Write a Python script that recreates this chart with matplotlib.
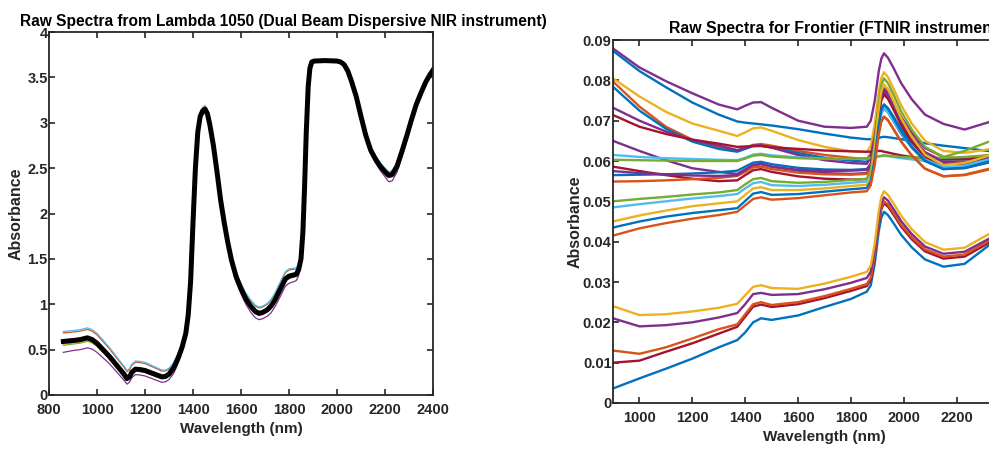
import numpy as np
import matplotlib
matplotlib.use("Agg")
import matplotlib.pyplot as plt
from matplotlib.ticker import FormatStrFormatter

plt.rcParams['font.family'] = ['Liberation Sans', 'DejaVu Sans']
plt.rcParams['font.weight'] = 'bold'

# ---------------- Lambda 1050 (left) ----------------
lam_wl = [860, 880, 900, 930, 960, 980, 1000,
          1025, 1050, 1075, 1100, 1115, 1125,
          1135, 1145, 1160, 1180, 1200,
          1225, 1250, 1270, 1285, 1300,
          1320, 1340, 1355, 1370, 1380,
          1390, 1400, 1410, 1420, 1430, 1440, 1450, 1460, 1470,
          1485, 1500, 1515, 1530, 1545, 1560, 1580,
          1600, 1620, 1640, 1660, 1675, 1690, 1710,
          1725, 1740, 1755, 1770, 1785, 1800, 1815, 1830,
          1840, 1850, 1858, 1865, 1872, 1880, 1887, 1895, 1905,
          1950, 2000, 2015, 2030, 2045, 2060,
          2080, 2100, 2120, 2140, 2160, 2180, 2200,
          2215, 2230, 2250, 2270, 2290, 2310,
          2330, 2350, 2370, 2385, 2400]
lam_mean = [0.59, 0.595, 0.60, 0.61, 0.63, 0.61, 0.57,
            0.50, 0.43, 0.35, 0.27, 0.22, 0.18,
            0.20, 0.25, 0.285, 0.28, 0.27,
            0.245, 0.22, 0.20, 0.205, 0.23,
            0.30, 0.42, 0.53, 0.68, 0.88,
            1.25, 1.90, 2.50, 2.90, 3.07, 3.13, 3.15, 3.10, 2.98,
            2.75, 2.46, 2.15, 1.90, 1.68, 1.49, 1.30,
            1.17, 1.06, 0.98, 0.92, 0.90, 0.91, 0.94,
            0.98, 1.04, 1.12, 1.20, 1.28, 1.31, 1.32, 1.33,
            1.38, 1.50, 1.80, 2.30, 2.90, 3.40, 3.60, 3.67, 3.68,
            3.685, 3.68, 3.67, 3.64, 3.57, 3.46,
            3.29, 3.07, 2.86, 2.70, 2.60, 2.52, 2.46,
            2.42, 2.43, 2.52, 2.68, 2.85, 3.03,
            3.20, 3.33, 3.45, 3.52, 3.58]
# how far the outer spectra sit above / below the black bundle
lam_dev_hi = [0.11, 0.11, 0.11, 0.11, 0.11, 0.11, 0.11,
              0.105, 0.10, 0.095, 0.09, 0.09, 0.09,
              0.09, 0.09, 0.09, 0.09, 0.09,
              0.085, 0.08, 0.075, 0.07, 0.065,
              0.06, 0.05, 0.045, 0.04, 0.035,
              0.03, 0.03, 0.03, 0.03, 0.035, 0.04, 0.04, 0.04, 0.04,
              0.035, 0.03, 0.035, 0.04, 0.045, 0.05, 0.055,
              0.06, 0.065, 0.07, 0.07, 0.07, 0.07, 0.07,
              0.075, 0.075, 0.08, 0.08, 0.08, 0.08, 0.075, 0.07,
              0.06, 0.05, 0.04, 0.03, 0.025, 0.02, 0.01, 0.0, 0.0,
              0.0, 0.0, 0.0, 0.005, 0.01, 0.015,
              0.02, 0.025, 0.03, 0.035, 0.04, 0.04, 0.04,
              0.04, 0.04, 0.035, 0.03, 0.025, 0.02,
              0.02, 0.015, 0.015, 0.01, 0.01]
lam_dev_lo = [-0.12, -0.115, -0.11, -0.11, -0.11, -0.105, -0.10,
              -0.09, -0.08, -0.075, -0.07, -0.065, -0.06,
              -0.06, -0.06, -0.06, -0.06, -0.06,
              -0.06, -0.06, -0.06, -0.06, -0.06,
              -0.06, -0.055, -0.05, -0.045, -0.04,
              -0.035, -0.03, -0.03, -0.03, -0.035, -0.04, -0.04, -0.04, -0.04,
              -0.04, -0.04, -0.04, -0.045, -0.05, -0.05, -0.05,
              -0.055, -0.06, -0.065, -0.07, -0.07, -0.07, -0.07,
              -0.075, -0.075, -0.08, -0.08, -0.08, -0.08, -0.075, -0.07,
              -0.065, -0.06, -0.05, -0.04, -0.03, -0.02, -0.01, 0.0, 0.0,
              0.0, 0.0, 0.0, -0.005, -0.01, -0.015,
              -0.02, -0.025, -0.03, -0.035, -0.04, -0.045, -0.055,
              -0.07, -0.07, -0.065, -0.06, -0.05, -0.045,
              -0.04, -0.035, -0.03, -0.025, -0.02]
lam_colors = ['#A2142F', '#0072BD', '#77AC30', '#EDB120', '#D95319', '#4DBEEE', '#7E2F8E']
lam_factor = [0.15, 0.05, -0.35, -0.25, 0.85, 1.0, -1.0]

# ---------------- Frontier FTNIR (right), values in milli-absorbance ----------------
ft_wl = [900, 1000, 1100, 1200, 1300, 1370, 1400, 1430, 1460, 1500, 1600, 1700, 1800, 1860,
         1875, 1890, 1905, 1915, 1925, 1940, 1960, 1990, 2030, 2080, 2150, 2230, 2330]

ft_upper_colors = ['#7E2F8E', '#0072BD', '#EDB120', '#D95319', '#0072BD', '#7E2F8E',
                   '#A2142F', '#7E2F8E', '#4DBEEE', '#77AC30', '#A2142F', '#0072BD',
                   '#D95319', '#7E2F8E', '#77AC30', '#4DBEEE', '#EDB120', '#0072BD',
                   '#D95319']
ft_upper = [
    [87.9, 83.2, 79.8, 76.8, 74.0, 72.8, 73.7, 74.5, 74.6, 73.2, 70.0, 68.5, 68.2, 68.5,
     70.0, 74.9, 82.2, 85.4, 86.7, 85.6, 83.2, 79.3, 75.3, 71.5, 69.2, 67.8, 69.8],
    [87.3, 82.3, 78.3, 74.5, 71.5, 69.8, 69.5, 69.3, 69.1, 68.8, 67.9, 66.8, 65.8, 65.4,
     65.4, 65.5, 65.7, 65.9, 66.0, 65.9, 65.7, 65.4, 65.0, 64.4, 63.8, 63.2, 62.4],
    [80.5, 76.0, 72.2, 69.3, 67.5, 66.2, 67.1, 68.1, 68.3, 67.5, 65.2, 63.5, 62.4, 62.2,
     63.8, 69.1, 77.1, 80.6, 82.0, 80.8, 78.1, 73.8, 69.3, 65.0, 62.5, 62.0, 63.0],
    [79.7, 73.5, 68.5, 65.3, 63.5, 62.6, 63.3, 64.0, 64.2, 63.8, 62.5, 61.5, 60.8, 60.5,
     61.8, 66.3, 72.9, 75.8, 77.0, 76.0, 73.6, 69.9, 66.0, 62.2, 60.0, 59.8, 61.0],
    [78.4, 72.5, 68.0, 64.8, 63.0, 62.3, 63.0, 63.7, 63.8, 63.4, 62.0, 60.8, 60.1, 59.8,
     60.9, 64.8, 70.5, 73.0, 74.0, 73.1, 71.1, 67.9, 64.6, 61.4, 59.5, 59.5, 61.0],
    [73.2, 70.0, 67.3, 65.2, 63.8, 62.7, 63.2, 63.8, 63.9, 63.3, 61.5, 60.2, 59.5, 59.3,
     60.8, 65.8, 73.3, 76.7, 78.0, 77.0, 74.6, 70.9, 67.0, 63.2, 61.0, 60.5, 61.5],
    [71.4, 68.5, 66.7, 65.3, 64.3, 63.5, 63.6, 63.7, 63.7, 63.4, 63.0, 62.6, 62.4, 62.3,
     62.3, 62.4, 62.5, 62.5, 62.3, 62.1, 61.8, 61.4, 61.0, 60.6, 60.3, 60.3, 60.8],
    [65.0, 62.5, 60.2, 58.2, 57.3, 56.8, 57.9, 59.0, 59.2, 58.6, 57.6, 57.0, 56.8, 57.0,
     58.6, 64.0, 72.0, 75.6, 77.0, 76.0, 73.5, 69.7, 65.6, 61.8, 59.5, 59.2, 60.5],
    [61.5, 61.0, 60.7, 60.5, 60.3, 60.2, 60.8, 61.6, 61.8, 61.4, 60.9, 60.6, 60.5, 60.6,
     60.7, 60.9, 61.1, 61.2, 61.3, 61.2, 61.0, 60.7, 60.4, 60.0, 59.8, 59.8, 60.3],
    [60.3, 60.2, 60.1, 60.0, 60.0, 60.0, 60.6, 61.3, 61.5, 61.1, 60.7, 60.5, 60.6, 60.7,
     60.8, 61.0, 61.2, 61.3, 61.4, 61.3, 61.2, 61.0, 60.9, 60.8, 60.8, 61.0, 61.5],
    [58.6, 57.5, 56.5, 55.6, 55.0, 55.2, 56.5, 57.7, 58.0, 57.3, 56.2, 55.6, 55.4, 55.5,
     57.2, 62.9, 71.3, 75.0, 76.5, 75.4, 72.9, 68.9, 64.8, 60.8, 58.5, 58.3, 59.8],
    [56.5, 56.6, 56.7, 56.9, 57.2, 57.6, 58.6, 59.6, 59.8, 59.2, 58.3, 57.9, 57.8, 58.0,
     59.2, 63.3, 69.3, 72.0, 73.0, 72.1, 70.0, 66.7, 63.3, 60.0, 58.0, 58.2, 59.8],
    [54.9, 55.0, 55.2, 55.5, 55.8, 56.3, 57.3, 58.4, 58.6, 58.0, 57.1, 56.7, 56.6, 56.8,
     57.9, 61.8, 67.4, 70.0, 71.0, 70.1, 68.0, 64.8, 61.4, 58.1, 56.2, 56.5, 58.0],
    [57.5, 57.0, 56.7, 56.4, 56.3, 56.5, 57.8, 59.0, 59.3, 58.6, 57.8, 57.5, 57.6, 57.8,
     59.4, 64.7, 72.6, 76.1, 77.5, 76.4, 74.0, 70.1, 66.0, 62.1, 59.8, 59.6, 61.0],
    [50.0, 50.6, 51.1, 51.7, 52.2, 52.8, 54.2, 55.5, 55.8, 55.0, 54.6, 54.8, 55.3, 55.6,
     57.6, 64.3, 74.3, 78.8, 80.5, 79.3, 76.6, 72.3, 67.8, 63.5, 61.0, 62.5, 65.0],
    [48.5, 49.3, 50.0, 50.7, 51.3, 51.8, 53.2, 54.5, 54.8, 54.0, 53.8, 54.1, 54.6, 54.9,
     56.3, 61.2, 68.5, 71.7, 73.0, 72.1, 70.1, 66.9, 63.6, 60.4, 58.5, 58.8, 60.5],
    [45.0, 46.5, 47.7, 48.8, 49.5, 50.0, 51.6, 53.2, 53.5, 52.8, 52.8, 53.2, 53.8, 54.1,
     56.1, 62.8, 72.8, 77.3, 79.0, 77.8, 75.0, 70.6, 66.0, 61.6, 59.0, 59.5, 61.5],
    [43.5, 45.0, 46.2, 47.1, 47.8, 48.3, 50.1, 51.9, 52.3, 51.6, 51.8, 52.4, 53.0, 53.3,
     55.0, 60.5, 68.8, 72.6, 74.0, 73.0, 70.8, 67.3, 63.6, 60.1, 58.0, 58.3, 60.0],
    [41.5, 43.3, 44.6, 45.7, 46.6, 47.4, 49.0, 50.6, 51.0, 50.4, 50.8, 51.5, 52.2, 52.5,
     54.0, 59.0, 66.4, 69.7, 71.0, 70.1, 68.0, 64.8, 61.4, 58.1, 56.2, 56.6, 58.2],
]

ft_lower_colors = ['#0072BD', '#A2142F', '#D95319', '#7E2F8E', '#EDB120']
ft_lower = [
    [3.6, 6.1, 8.5, 11.0, 13.8, 15.6, 17.5, 20.0, 21.0, 20.6, 21.7, 23.8, 25.8, 27.6,
     29.2, 34.5, 42.5, 46.0, 47.4, 46.6, 44.7, 41.7, 38.6, 35.6, 33.8, 34.5, 39.5],
    [10.0, 10.5, 12.7, 14.8, 17.2, 18.9, 21.4, 23.9, 24.4, 23.8, 24.5, 26.0, 27.8, 29.0,
     30.6, 36.2, 44.4, 48.1, 49.5, 48.7, 46.8, 43.7, 40.6, 37.6, 35.8, 36.3, 40.0],
    [13.0, 12.2, 13.8, 16.0, 18.3, 19.5, 22.0, 24.5, 25.0, 24.3, 25.0, 26.5, 28.3, 29.5,
     31.1, 36.7, 44.9, 48.6, 50.0, 49.2, 47.3, 44.2, 41.1, 38.1, 36.3, 36.8, 40.5],
    [21.0, 19.0, 19.3, 20.0, 21.2, 22.3, 24.5, 27.0, 27.3, 26.8, 27.0, 28.2, 29.8, 31.0,
     32.6, 38.0, 46.0, 49.6, 51.0, 50.2, 48.2, 45.1, 41.9, 38.8, 37.0, 37.5, 41.0],
    [24.0, 21.8, 22.0, 22.7, 23.6, 24.6, 26.7, 28.8, 29.2, 28.5, 28.3, 29.6, 31.3, 32.5,
     34.1, 39.5, 47.5, 51.1, 52.5, 51.6, 49.6, 46.4, 43.1, 39.9, 38.0, 38.5, 42.2],
]

AX_COLOR = '#262626'


def style_axes(ax):
    for sp in ax.spines.values():
        sp.set_linewidth(1.3)
        sp.set_color(AX_COLOR)
    ax.tick_params(direction='in', top=True, right=True, length=4.5, width=1.2,
                   colors=AX_COLOR, labelsize=10.5)
    ax.tick_params(axis='x', pad=6)
    ax.tick_params(axis='y', pad=1)
    ax.set_xlabel('Wavelength (nm)', fontsize=11, fontweight='bold', color=AX_COLOR, labelpad=3)
    ax.set_ylabel('Absorbance', fontsize=11.5, fontweight='bold', color=AX_COLOR)


fig = plt.figure(figsize=(9.89, 4.49), dpi=100)

# left panel
ax1 = fig.add_axes([49 / 989, 1 - 395 / 449, 384 / 989, 363 / 449])
wl = np.array(lam_wl)
mean = np.array(lam_mean)
for c, k in zip(lam_colors, lam_factor):
    dev = np.array(lam_dev_hi) if k > 0 else np.array(lam_dev_lo)
    ax1.plot(wl, mean + abs(k) * dev, color=c, lw=0.9)
ax1.plot(wl, mean, color='black', lw=3.6)
ax1.set_xlim(800, 2400)
ax1.set_ylim(0, 4)
ax1.set_xticks(np.arange(800, 2401, 200))
ax1.set_yticks(np.arange(0, 4.01, 0.5))
ax1.yaxis.set_major_formatter(FormatStrFormatter('%g'))
style_axes(ax1)
ax1.yaxis.set_label_coords(-0.065, 0.5)
fig.text(20 / 989, 1 - 26 / 449, 'Raw Spectra from Lambda 1050 (Dual Beam Dispersive NIR instrument)',
         ha='left', va='baseline', fontsize=11.2, fontweight='bold', color='black')

# right panel (runs past the right edge of the picture, as in the reference)
ax2 = fig.add_axes([613 / 989, 1 - 403 / 449, 423 / 989, 363 / 449])
for row, c in zip(ft_upper, ft_upper_colors):
    ax2.plot(ft_wl, np.array(row) * 1e-3, color=c, lw=1.7)
for row, c in zip(ft_lower, ft_lower_colors):
    ax2.plot(ft_wl, np.array(row) * 1e-3, color=c, lw=1.7)
ax2.set_xlim(900, 2500)
ax2.set_ylim(0, 0.09)
ax2.set_xticks(np.arange(1000, 2401, 200))
ax2.set_yticks(np.arange(0, 0.0901, 0.01))
ax2.yaxis.set_major_formatter(FormatStrFormatter('%g'))
style_axes(ax2)
ax2.yaxis.set_label_coords(-0.073, 0.5)
fig.text(669 / 989, 1 - 33 / 449, 'Raw Spectra for Frontier (FTNIR instrument)',
         ha='left', va='baseline', fontsize=11.4, fontweight='bold', color='black')

fig.savefig('out.png', dpi=100)
